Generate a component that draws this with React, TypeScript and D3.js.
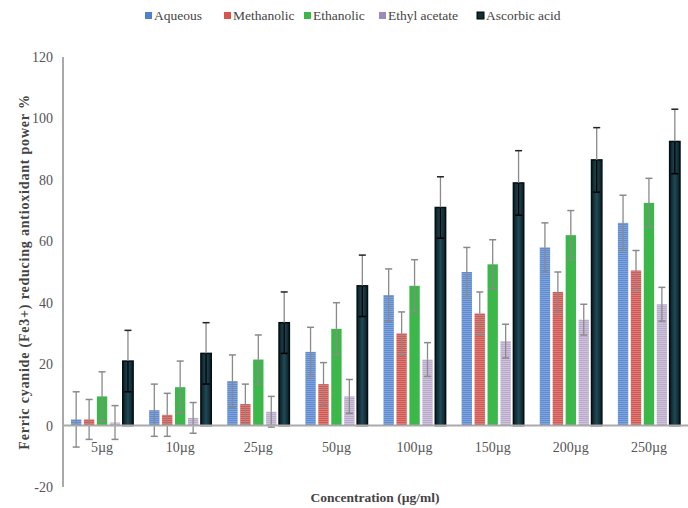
import React from "react";
import * as d3 from "d3";

const categories = ["5µg", "10µg", "25µg", "50µg", "100µg", "150µg", "200µg", "250µg"];
const seriesNames = ["Aqueous", "Methanolic", "Ethanolic", "Ethyl acetate", "Ascorbic acid"];

const aqueous = [2, 5, 14.5, 24, 42.5, 50, 58, 66];
const methanolic = [2, 3.5, 7, 13.5, 30, 36.5, 43.5, 50.5];
const ethanolic = [9.5, 12.5, 21.5, 31.5, 45.5, 52.5, 62, 72.5];
const ethylAcetate = [1, 2.5, 4.5, 9.5, 21.5, 27.5, 34.5, 39.5];
const ascorbic = [21, 23.5, 33.5, 45.5, 71, 79, 86.5, 92.5];

const aqueousErr = [9, 8.5, 8.5, 8, 8.5, 8, 8, 9];
const methanolicErr = [6.5, 7, 6.5, 7, 7, 7, 6.5, 6.5];
const ethanolicErr = [8, 8.5, 8, 8.5, 8.5, 8, 8, 8];
const ethylAcetateErr = [5.5, 5, 5, 5.5, 5.5, 5.5, 5, 5.5];
const ascorbicErr = [10, 10, 10, 10, 10, 10.5, 10.5, 10.5];

const yTicks = [-20, 0, 20, 40, 60, 80, 100, 120];

const values = [aqueous, methanolic, ethanolic, ethylAcetate, ascorbic];
const errors = [aqueousErr, methanolicErr, ethanolicErr, ethylAcetateErr, ascorbicErr];
const fills = ["url(#stripeBlue)", "url(#stripeRed)", "#3cb84a", "url(#stripePurple)", "url(#darkGrad)"];
const legendColors = ["#4f7fcf", "#d9544f", "#3cb84a", "#9b8bbd", "#0f2e36"];

const W = 688;
const H = 508;
const serif = "'Liberation Serif', 'Times New Roman', serif";

export default function App() {
  const x = d3.scaleBand<string>().domain(categories).range([63, 688]).paddingInner(0).paddingOuter(0);
  const y = d3.scaleLinear().domain([-20, 120]).range([487, 57]);
  const inner = d3
    .scaleBand<string>()
    .domain(seriesNames)
    .range([8, x.bandwidth() - 8])
    .paddingInner(0.2);

  return (
    <svg width={W} height={H} style={{ position: "absolute", left: 0, top: 0, background: "#fff" }}>
      <defs>
        <pattern id="stripeBlue" width="4" height="2" patternUnits="userSpaceOnUse">
          <rect width="4" height="2" fill="#7ea3dd" />
          <rect width="4" height="1" fill="#5f8bd0" />
        </pattern>
        <pattern id="stripeRed" width="4" height="2" patternUnits="userSpaceOnUse">
          <rect width="4" height="2" fill="#e07a74" />
          <rect width="4" height="1" fill="#cf5a55" />
        </pattern>
        <pattern id="stripePurple" width="4" height="2" patternUnits="userSpaceOnUse">
          <rect width="4" height="2" fill="#cfc3dc" />
          <rect width="4" height="1" fill="#b9aacb" />
        </pattern>
        <linearGradient id="darkGrad" x1="0" x2="1" y1="0" y2="0">
          <stop offset="0" stopColor="#0a1c22" />
          <stop offset="0.5" stopColor="#1f4a57" />
          <stop offset="1" stopColor="#0a1c22" />
        </linearGradient>
      </defs>

      {/* y axis */}
      <line x1={63} x2={63} y1={y(120)} y2={y(-20)} stroke="#8c8c8c" strokeWidth={1.5} />
      {yTicks.map((t) => (
        <text
          key={t}
          x={53}
          y={y(t) + 5}
          textAnchor="end"
          fontFamily={serif}
          fontSize={14}
          fill="#555"
        >
          {t}
        </text>
      ))}

      {/* bars */}
      {categories.map((c, i) => (
        <g key={c} transform={`translate(${x(c)},0)`}>
          {seriesNames.map((s, k) => {
            const v = values[k][i];
            const e = errors[k][i];
            const bx = inner(s)!;
            const bw = inner.bandwidth();
            const cx = bx + bw / 2;
            const dark = k === 4;
            return (
              <g key={s}>
                <rect
                  x={bx}
                  y={y(v)}
                  width={bw}
                  height={y(0) - y(v)}
                  fill={fills[k]}
                  stroke={dark ? "#050f12" : "none"}
                  strokeWidth={dark ? 1.5 : 0}
                />
                <line x1={cx} x2={cx} y1={y(v + e)} y2={y(v)} stroke="#8a8a8a" strokeWidth={1.3} />
                <line
                  x1={cx}
                  x2={cx}
                  y1={y(v)}
                  y2={y(v - e)}
                  stroke={dark ? "#000" : "#8a8a8a"}
                  strokeWidth={1.3}
                />
                <line x1={cx - 3.5} x2={cx + 3.5} y1={y(v + e)} y2={y(v + e)} stroke={dark ? "#222" : "#8a8a8a"} strokeWidth={1.5} />
                <line x1={cx - 3.5} x2={cx + 3.5} y1={y(v - e)} y2={y(v - e)} stroke={dark ? "#000" : "#8a8a8a"} strokeWidth={1.5} />
              </g>
            );
          })}
          <text
            x={x.bandwidth() / 2}
            y={452}
            textAnchor="middle"
            fontFamily={serif}
            fontSize={14}
            fill="#555"
          >
            {c}
          </text>
        </g>
      ))}

      {/* x axis line at zero */}
      <line x1={63} x2={688} y1={y(0)} y2={y(0)} stroke="#aaa" strokeWidth={2} />

      {/* legend */}
      {(() => {
        const lx = [145, 224, 304, 379, 477];
        return seriesNames.map((s, k) => (
          <g key={s}>
            <rect
              x={lx[k]}
              y={12}
              width={7}
              height={7}
              fill={legendColors[k]}
              stroke={k === 4 ? "#000" : "none"}
            />
            <text x={lx[k] + 9} y={20} fontFamily={serif} fontSize={13.5} fill="#444">
              {s}
            </text>
          </g>
        ));
      })()}

      {/* axis titles */}
      <text
        transform={`translate(29,${272}) rotate(-90)`}
        textAnchor="middle"
        fontFamily={serif}
        fontSize={14}
        fontWeight="bold"
        letterSpacing={0.8}
        fill="#444"
      >
        Ferric cyanide (Fe3+) reducing antioxidant power %
      </text>
      <text
        x={375}
        y={502}
        textAnchor="middle"
        fontFamily={serif}
        fontSize={13.5}
        fontWeight="bold"
        fill="#444"
      >
        Concentration (µg/ml)
      </text>
    </svg>
  );
}
